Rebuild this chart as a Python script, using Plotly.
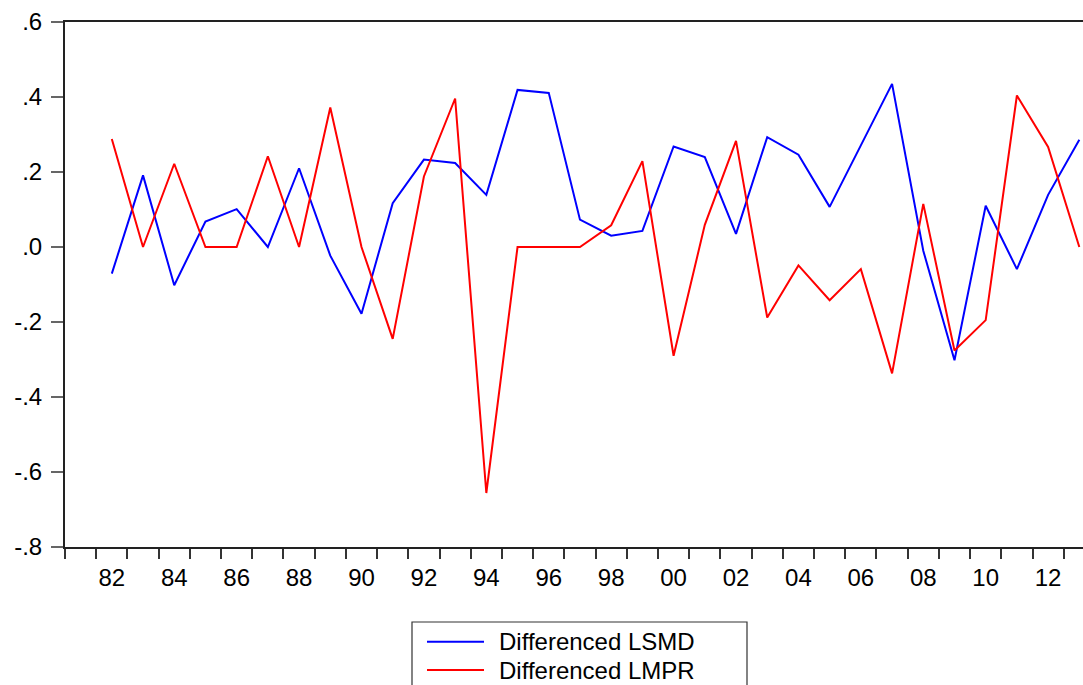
import plotly.graph_objects as go

years = list(range(1982, 2014))
lsmd = [-0.071, 0.191, -0.102, 0.068, 0.101, 0.0, 0.210, -0.023, -0.178, 0.117,
        0.233, 0.224, 0.139, 0.419, 0.411, 0.073, 0.030, 0.043, 0.268, 0.240,
        0.035, 0.293, 0.246, 0.107, 0.271, 0.435, -0.010, -0.302, 0.110, -0.059,
        0.139, 0.286]
lmpr = [0.288, 0.0, 0.222, 0.0, 0.0, 0.242, 0.0, 0.372, 0.0, -0.245,
        0.188, 0.396, -0.656, 0.0, 0.0, 0.0, 0.058, 0.229, -0.290, 0.059,
        0.283, -0.188, -0.049, -0.142, -0.059, -0.337, 0.115, -0.276, -0.195, 0.404,
        0.267, 0.0]
series_names = ["Differenced LSMD", "Differenced LMPR"]
series_colors = ["#0000FF", "#FF0000"]
x_tick_years = list(range(1982, 2013, 2))
x_tick_text = [str(y)[2:] for y in x_tick_years]
y_tick_vals = [0.6, 0.4, 0.2, 0.0, -0.2, -0.4, -0.6, -0.8]
y_tick_text = [".6", ".4", ".2", ".0", "-.2", "-.4", "-.6", "-.8"]

W, H = 1083, 685
L, T, B, R = 65, 22, 138, 0
FONT = "Liberation Sans, Arial, sans-serif"
FS = 24

fig = go.Figure()
for name, vals, col in zip(series_names, [lsmd, lmpr], series_colors):
    fig.add_trace(go.Scatter(x=years, y=vals, mode="lines", name=name,
                             line=dict(color=col, width=2), showlegend=False))

px_per_year = 31.21
x0 = 1980.5
x1 = x0 + (W - L - R) / px_per_year

fig.update_layout(
    width=W, height=H,
    margin=dict(l=L, r=R, t=T, b=B),
    paper_bgcolor="white", plot_bgcolor="white",
    font=dict(family=FONT, size=FS, color="black"),
    xaxis=dict(range=[x0, x1], showgrid=False, zeroline=False,
               showline=True, linecolor="#222222", linewidth=2, mirror=True,
               tickvals=x_tick_years, ticktext=x_tick_text, ticks="",
               ticklabelstandoff=8,
               tickfont=dict(family=FONT, size=FS, color="black"),
               minor=dict(tick0=x0, dtick=1, ticks="outside", ticklen=10,
                          tickwidth=1.5, tickcolor="#333333", showgrid=False)),
    yaxis=dict(range=[-0.8, 0.6], showgrid=False, zeroline=False,
               showline=True, linecolor="#222222", linewidth=2,
               tickvals=y_tick_vals, ticktext=y_tick_text,
               ticks="outside", ticklen=12, tickwidth=1.5, tickcolor="#666666",
               ticklabelstandoff=4,
               tickfont=dict(family=FONT, size=FS, color="black")),
)

def px2x(px):
    return (px - L) / (W - L - R)

def py2y(py):
    return (H - B - py) / (H - B - T)

# legend box
fig.add_shape(type="rect", xref="paper", yref="paper",
              x0=px2x(412), x1=px2x(747), y0=py2y(622), y1=py2y(700),
              line=dict(color="#333333", width=1.2), fillcolor="white")
for i, (name, col) in enumerate(zip(series_names, series_colors)):
    ly = 641.7 + i * 28.3
    fig.add_shape(type="line", xref="paper", yref="paper",
                  x0=px2x(427), x1=px2x(484), y0=py2y(ly), y1=py2y(ly),
                  line=dict(color=col, width=2))
    fig.add_annotation(xref="paper", yref="paper", x=px2x(497), y=py2y(ly),
                       text=name, showarrow=False, xanchor="left", yanchor="middle",
                       font=dict(family=FONT, size=FS, color="black"))

fig.write_html("out.html", config={"displayModeBar": False},
               post_script="document.body.style.margin='0';document.body.style.overflow='hidden';")
